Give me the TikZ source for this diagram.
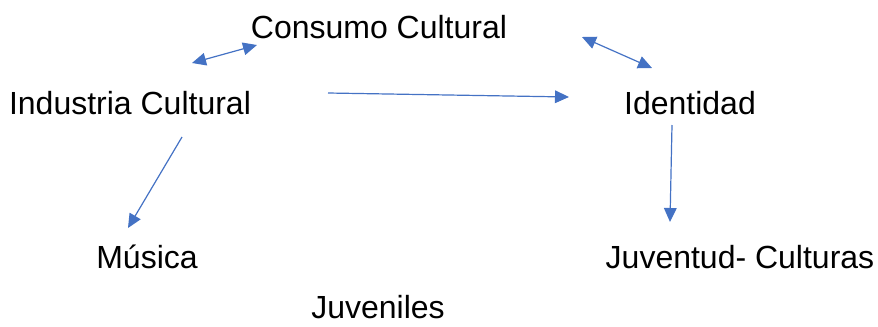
\documentclass[tikz,border=0pt]{standalone}
\usepackage{fontspec}
\setmainfont{Liberation Sans}
\usetikzlibrary{arrows.meta}
\definecolor{arrowblue}{RGB}{68,114,196}
\begin{document}
\begin{tikzpicture}[x=0.75pt,y=-0.75pt,
  lbl/.style={inner sep=0pt,anchor=base,font=\fontsize{24}{28}\selectfont},
  conn/.style={draw=arrowblue,line width=0.9pt,-{Triangle[length=10.5pt,width=9.5pt]}},
  biconn/.style={draw=arrowblue,line width=0.9pt,{Triangle[length=10.5pt,width=9.5pt]}-{Triangle[length=10.5pt,width=9.5pt]}}]
\useasboundingbox (0,0) rectangle (878,326);
\node[lbl] (consumo) at (379,38) {Consumo Cultural};
\node[lbl] (industria) at (130,114) {Industria Cultural};
\node[lbl] (identidad) at (690,114) {Identidad};
\node[lbl] (musica) at (147,268) {Música};
\node[lbl] (juventud) at (740,268) {Juventud- Culturas};
\node[lbl] (juveniles) at (378,318) {Juveniles};
\coordinate (a1) at (192,63);
\coordinate (a2) at (257,45);
\coordinate (b1) at (582,37);
\coordinate (b2) at (652,68);
\coordinate (c1) at (328,93);
\coordinate (c2) at (569,97);
\coordinate (d1) at (182,137);
\coordinate (d2) at (128,228);
\coordinate (e1) at (672,125);
\coordinate (e2) at (670,222);
\draw[biconn] (a1) -- (a2);
\draw[biconn] (b1) -- (b2);
\draw[conn] (c1) -- (c2);
\draw[conn] (d1) -- (d2);
\draw[conn] (e1) -- (e2);
\end{tikzpicture}
\end{document}
